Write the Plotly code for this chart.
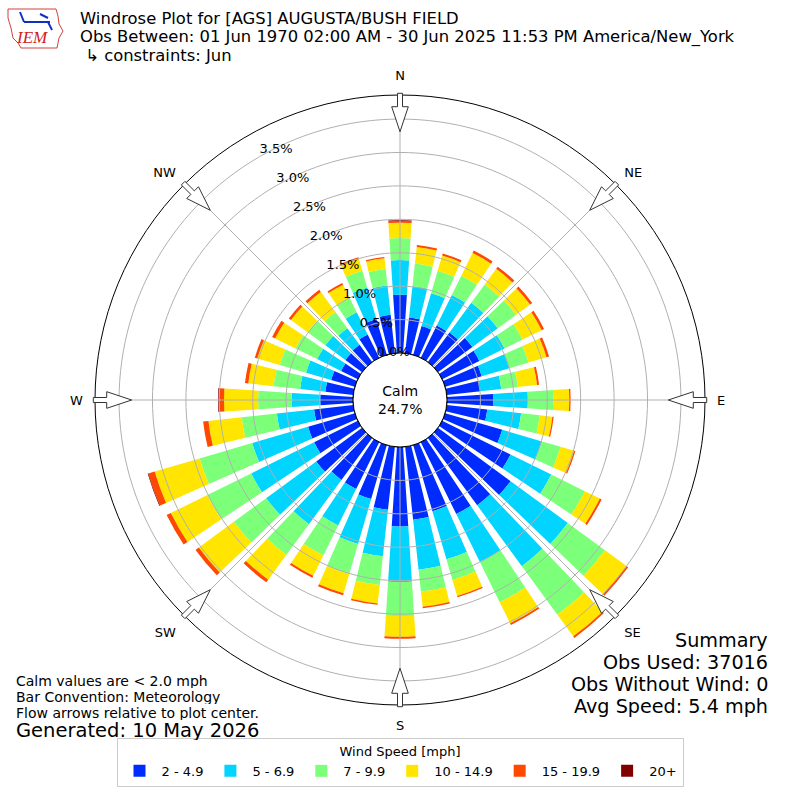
import plotly.graph_objects as go
import numpy as np

# direction bins (degrees, meteorological)
directions = list(range(0, 360, 10))

# percent of obs in each speed bin
speed_2_5 = [0.87, 0.54, 0.45, 0.54, 0.55, 0.64, 0.62, 0.57, 0.51, 0.69,
             0.61, 0.89, 1.14, 1.35, 1.25, 1.20, 1.03, 1.10, 1.19, 0.95,
             0.84, 0.78, 0.78, 0.85, 0.73, 0.73, 0.59, 0.49, 0.42, 0.37,
             0.28, 0.31, 0.32, 0.39, 0.56, 0.58]
speed_5_7 = [0.52, 0.47, 0.51, 0.51, 0.55, 0.47, 0.42, 0.43, 0.31, 0.52,
             0.51, 0.62, 0.68, 1.06, 1.13, 0.80, 0.75, 0.75, 0.83, 0.70,
             0.70, 0.61, 0.82, 0.93, 1.05, 0.87, 0.56, 0.43, 0.38, 0.39,
             0.40, 0.37, 0.31, 0.37, 0.49, 0.44]
speed_7_10 = [0.33, 0.34, 0.35, 0.32, 0.34, 0.34, 0.30, 0.30, 0.25, 0.38,
              0.28, 0.29, 0.56, 0.69, 0.90, 0.67, 0.32, 0.33, 0.51, 0.43,
              0.47, 0.50, 0.57, 0.60, 0.73, 0.82, 0.53, 0.50, 0.40, 0.41,
              0.36, 0.33, 0.30, 0.24, 0.26, 0.25]
speed_10_15 = [0.23, 0.25, 0.24, 0.38, 0.29, 0.26, 0.32, 0.28, 0.29, 0.24,
               0.19, 0.21, 0.25, 0.40, 0.40, 0.35, 0.25, 0.23, 0.31, 0.28,
               0.30, 0.34, 0.46, 0.65, 0.61, 0.70, 0.50, 0.51, 0.38, 0.35,
               0.34, 0.31, 0.37, 0.22, 0.18, 0.16]
speed_15_20 = [0.03, 0.03, 0.03, 0.04, 0.04, 0.04, 0.04, 0.04, 0.03, 0.02,
               0.02, 0.02, 0.03, 0.03, 0.03, 0.03, 0.02, 0.02, 0.03, 0.02,
               0.03, 0.03, 0.05, 0.06, 0.07, 0.10, 0.08, 0.08, 0.05, 0.04,
               0.05, 0.04, 0.04, 0.03, 0.03, 0.02]
speed_20p = [0.01, 0, 0, 0, 0, 0, 0, 0, 0, 0,
             0, 0, 0, 0, 0, 0, 0, 0, 0, 0,
             0, 0, 0, 0, 0, 0.01, 0, 0.01, 0, 0,
             0, 0, 0, 0, 0, 0]

bin_labels = ["2 - 4.9", "5 - 6.9", "7 - 9.9", "10 - 14.9", "15 - 19.9", "20+"]
bin_colors = ["#002bff", "#00d4ff", "#7cff79", "#ffe500", "#ff4800", "#800000"]
calm_pct = 24.7

ring_vals = [0.0, 0.5, 1.0, 1.5, 2.0, 2.5, 3.0, 3.5]
ring_labels = ["0.0%", "0.5%", "1.0%", "1.5%", "2.0%", "2.5%", "3.0%", "3.5%"]
compass = ["N", "NE", "E", "SE", "S", "SW", "W", "NW"]
compass_deg = [0, 45, 90, 135, 180, 225, 270, 315]
r_max = 3.86

W = H = 800
CX, CY, R_OUT, R_HOLE = 400, 400, 305, 47
GRID = "#b0b0b0"


def px(x, y):
    return x / W, 1 - y / H


fig = go.Figure()

series = [speed_2_5, speed_5_7, speed_7_10, speed_10_15, speed_15_20, speed_20p]
for vals, lab, col in zip(series, bin_labels, bin_colors):
    fig.add_trace(go.Barpolar(r=vals, theta=directions, name=lab, width=7.5,
                              marker=dict(color=col, line=dict(width=0))))

# grid drawn over the bars, like matplotlib does
ring_theta = list(np.arange(0, 361, 2))
for rv in ring_vals:
    fig.add_trace(go.Scatterpolar(r=[rv] * len(ring_theta), theta=ring_theta, mode="lines",
                                  line=dict(color="black" if rv == 0 else GRID, width=1),
                                  showlegend=False, hoverinfo="skip"))
for d in compass_deg:
    fig.add_trace(go.Scatterpolar(r=[0, r_max], theta=[d, d], mode="lines",
                                  line=dict(color=GRID, width=1), showlegend=False, hoverinfo="skip"))

# radial labels
fig.add_trace(go.Scatterpolar(r=ring_vals, theta=[330] * len(ring_vals), mode="text",
                              text=ring_labels, textposition="top right",
                              textfont=dict(size=13, color="black"), showlegend=False, hoverinfo="skip"))

# flow arrows on the rim
shapes = []
arrow = [(306.7, -2.5), (293.3, -2.5), (293.3, -8.3), (268.3, 0),
         (293.3, 8.3), (293.3, 2.5), (306.7, 2.5)]
for d in compass_deg:
    t = np.radians(d)
    pts = []
    for r, v in arrow:
        x = CX + r * np.sin(t) + v * np.cos(t)
        y = CY - r * np.cos(t) + v * np.sin(t)
        pts.append(px(x, y))
    path = "M " + " L ".join("%.5f %.5f" % p for p in pts) + " Z"
    shapes.append(dict(type="path", path=path, xref="paper", yref="paper",
                       fillcolor="white", line=dict(color="#333333", width=1)))

# IEM logo (rough)
iowa = [(8, 9), (56, 9), (58, 16), (59, 24), (63, 31), (59, 38), (57, 48),
        (21, 48), (18, 43), (13, 38), (11, 28), (8, 18)]
path = "M " + " L ".join("%.5f %.5f" % px(x, y) for x, y in iowa) + " Z"
shapes.append(dict(type="path", path=path, xref="paper", yref="paper",
                   line=dict(color="#d04040", width=1)))
for (x0, y0, x1, y1) in [(24, 22, 50, 22), (20, 12, 24, 22), (40, 14, 48, 18), (48, 22, 52, 30)]:
    a = px(x0, y0)
    b = px(x1, y1)
    shapes.append(dict(type="line", x0=a[0], y0=a[1], x1=b[0], y1=b[1], xref="paper", yref="paper",
                       line=dict(color="#1030c0", width=2)))

ann = []
ann.append(dict(text="<i>IEM</i>", x=px(14, 38)[0], y=px(14, 38)[1], xanchor="left", yanchor="middle",
                showarrow=False, font=dict(family="Liberation Serif", size=17, color="#d02020")))
title_lines = ["Windrose Plot for [AGS] AUGUSTA/BUSH FIELD",
               "Obs Between: 01 Jun 1970 02:00 AM - 30 Jun 2025 11:53 PM America/New_York",
               " \u21b3 constraints: Jun"]
for i, t in enumerate(title_lines):
    ann.append(dict(text=t, x=px(78, 0)[0], y=px(0, 18.5 + 18.5 * i)[1], xanchor="left", yanchor="middle",
                    height=18.4, showarrow=False, font=dict(size=16.4)))

ann.append(dict(text="Calm<br>%.1f%%" % calm_pct, x=0.5, y=0.5, showarrow=False, font=dict(size=14)))

notes = ["Calm values are < 2.0 mph", "Bar Convention: Meteorology", "Flow arrows relative to plot center."]
for i, t in enumerate(notes):
    ann.append(dict(text=t, x=px(14, 0)[0], y=px(0, 680 + 16 * i)[1], xanchor="left", yanchor="middle",
                    height=15, showarrow=False, font=dict(size=14)))
ann.append(dict(text="Generated: 10 May 2026", x=px(14, 0)[0], y=px(0, 730)[1], xanchor="left",
                yanchor="middle", height=19, showarrow=False, font=dict(size=19.5)))

summary = ["Summary", "Obs Used: 37016", "Obs Without Wind: 0", "Avg Speed: 5.4 mph"]
for i, t in enumerate(summary):
    ann.append(dict(text=t, x=px(770, 0)[0], y=px(0, 640 + 22 * i)[1], xanchor="right", yanchor="middle",
                    height=21, showarrow=False, font=dict(size=19.2)))

fig.update_layout(
    width=W, height=H,
    margin=dict(l=0, r=0, t=0, b=0),
    paper_bgcolor="white",
    font=dict(family="DejaVu Sans", color="black"),
    polar=dict(
        domain=dict(x=[(CX - R_OUT) / W, (CX + R_OUT) / W], y=[(H - CY - R_OUT) / H, (H - CY + R_OUT) / H]),
        hole=R_HOLE / R_OUT,
        bgcolor="white",
        barmode="stack",
        radialaxis=dict(range=[0, r_max], tickvals=ring_vals, showticklabels=False,
                        showline=False, showgrid=False, ticks=""),
        angularaxis=dict(rotation=90, direction="clockwise", tickvals=compass_deg,
                         ticktext=compass, showgrid=False, showline=True, linecolor="black",
                         linewidth=1, ticks="outside", ticklen=9, tickcolor="rgba(0,0,0,0)",
                         tickfont=dict(size=13)),
    ),
    legend=dict(orientation="h", x=0.5, xanchor="center", y=px(0, 787)[1], yanchor="bottom",
                title=dict(text="Wind Speed [mph]", side="top center", font=dict(size=13)),
                bordercolor="#cccccc", borderwidth=1, font=dict(size=13), traceorder="normal",
                itemwidth=34),
    shapes=shapes,
    annotations=ann,
)

fig.write_html("out.html", config={"displayModeBar": False},
               post_script="document.body.style.margin='0px';")
